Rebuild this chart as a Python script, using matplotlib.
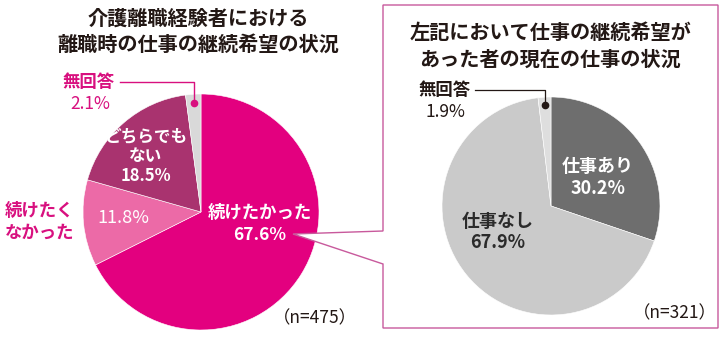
import numpy as np
import matplotlib
matplotlib.use("Agg")
import matplotlib.pyplot as plt
from matplotlib.patches import Polygon

plt.rcParams['font.family'] = ['Noto Sans CJK JP', 'DejaVu Sans']

# data
left_labels = ["続けたかった", "続けたくなかった", "どちらでもない", "無回答"]
left_values = [67.6, 11.8, 18.5, 2.1]
left_colors = ["#E3007F", "#EC6AA7", "#A9336F", "#D9D9D9"]
left_n = 475

right_labels = ["仕事あり", "仕事なし", "無回答"]
right_values = [30.2, 67.9, 1.9]
right_colors = ["#6E6E6E", "#CACACA", "#DEDEDE"]
right_n = 321

W, H = 723, 337
PINK = "#D8107F"
INK = "#231815"
BORDER = "#C8599C"


def Y(y):
    # pixel row (top down) -> axis y
    return H - y


fig = plt.figure(figsize=(W / 100, H / 100), dpi=100)
ax = fig.add_axes([0, 0, 1, 1])

# left pie
lc, lr = (201, Y(212)), 118
rc, rr = (551, Y(206)), 109
ax.pie(left_values, colors=left_colors, startangle=90, counterclock=False,
       center=lc, radius=lr, frame=True,
       wedgeprops=dict(linewidth=0.4, edgecolor="white"))

# speech-bubble box around right chart (drawn over the left pie's edge)
box = Polygon([(383, Y(5)), (718, Y(5)), (718, Y(328)), (383, Y(328)),
               (383, Y(264)), (293, Y(234)), (383, Y(231))],
              closed=True, facecolor="white", edgecolor=BORDER, lw=1.0, zorder=1.5)
ax.add_patch(box)

# right pie
ax.pie(right_values, colors=right_colors, startangle=90, counterclock=False,
       center=rc, radius=rr, frame=True,
       wedgeprops=dict(linewidth=0.4, edgecolor="white", zorder=2))
ax.set_xlim(0, W)
ax.set_ylim(0, H)
ax.set_aspect("equal")
ax.axis("off")


def mid_point(values, idx, center, radius):
    start = 90 - sum(values[:idx]) * 3.6
    ang = np.deg2rad(start - values[idx] * 1.8)
    return center[0] + radius * np.cos(ang), center[1] + radius * np.sin(ang)


# titles
ax.text(198, Y(31), "介護離職経験者における\n離職時の仕事の継続希望の状況",
        ha="center", va="center", fontsize=14.5, fontweight="bold", color=INK,
        linespacing=1.3)
ax.text(550, Y(46), "左記において仕事の継続希望が\nあった者の現在の仕事の状況",
        ha="center", va="center", fontsize=14.5, fontweight="bold", color=INK,
        linespacing=1.3, zorder=3)

# left labels
ax.text(260, Y(224), f"{left_labels[0]}\n{left_values[0]}%", ha="center", va="center",
        fontsize=12.5, fontweight="bold", color="white", linespacing=1.25, zorder=3)
ax.text(40, Y(222), "続けたく\nなかった", ha="center", va="center",
        fontsize=12.5, fontweight="bold", color=PINK, linespacing=1.3)
ax.text(123, Y(218), f"{left_values[1]}%", ha="center", va="center",
        fontsize=13, color="white", zorder=3)
ax.text(146, Y(156), f"どちらでも\nない\n{left_values[2]}%", ha="center", va="center",
        fontsize=12, fontweight="bold", color="white", linespacing=1.15, zorder=3)
ax.text(89, Y(82), left_labels[3], ha="center", va="center",
        fontsize=12.5, fontweight="bold", color=PINK)
ax.text(90, Y(104), f"{left_values[3]}%", ha="center", va="center",
        fontsize=12.5, color=PINK)
dx, dy = mid_point(left_values, 3, lc, lr * 0.925)
ax.plot([120, dx, dx], [Y(82), Y(82), dy], color=PINK, lw=1.0, zorder=3)
ax.plot(dx, dy, "o", color=PINK, ms=4.5, zorder=3)
ax.text(315, Y(318), f"（n={left_n}）", ha="center", va="center",
        fontsize=12.5, color=INK)

# right labels
ax.text(598, Y(178), f"{right_labels[0]}\n{right_values[0]}%", ha="center", va="center",
        fontsize=13, fontweight="bold", color="white", linespacing=1.2, zorder=3)
ax.text(498, Y(232), f"{right_labels[1]}\n{right_values[1]}%", ha="center", va="center",
        fontsize=13, fontweight="bold", color="#2B2B2B", linespacing=1.1, zorder=3)
ax.text(445, Y(90), right_labels[2], ha="center", va="center",
        fontsize=12.5, fontweight="bold", color=INK, zorder=3)
ax.text(445, Y(112), f"{right_values[2]}%", ha="center", va="center",
        fontsize=12.5, color=INK, zorder=3)
dx, dy = mid_point(right_values, 2, rc, rr * 0.93)
ax.plot([475, dx, dx], [Y(90), Y(90), dy], color=INK, lw=0.9, zorder=3)
ax.plot(dx, dy, "o", color=INK, ms=4.5, zorder=3)
ax.text(675, Y(313), f"（n={right_n}）", ha="center", va="center",
        fontsize=12.5, color=INK, zorder=3)

fig.savefig("out.png", dpi=100)
